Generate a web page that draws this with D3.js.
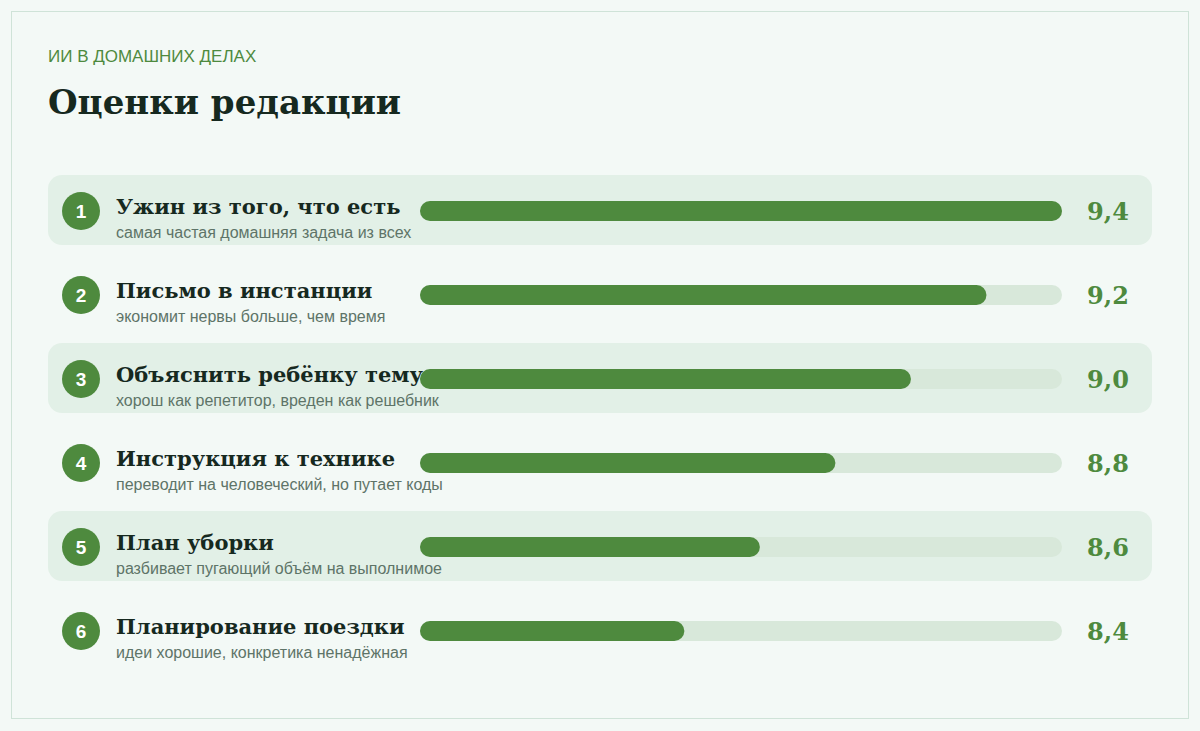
<!DOCTYPE html>
<html><head><meta charset="utf-8">
<script src="https://cdn.jsdelivr.net/npm/d3@7"></script>
<style>body{margin:0;background:#fff}</style>
</head><body><svg id="c" width="1200" height="731"></svg>
<script>
const titles = ['Ужин из того, что есть', 'Письмо в инстанции', 'Объяснить ребёнку тему', 'Инструкция к технике', 'План уборки', 'Планирование поездки'];
const notes = ['самая частая домашняя задача из всех', 'экономит нервы больше, чем время', 'хорош как репетитор, вреден как решебник', 'переводит на человеческий, но путает коды', 'разбивает пугающий объём на выполнимое', 'идеи хорошие, конкретика ненадёжная'];
const scores = [9.4, 9.2, 9.0, 8.8, 8.6, 8.4];

const GREEN = '#4e8a3e';
const SERIF = '"DejaVu Serif", Georgia, serif';
const SANS = '"Liberation Sans", Arial, sans-serif';

const svg = d3.select('#c');
svg.append('rect').attr('width', 1200).attr('height', 731).attr('fill', '#f3f9f6');
svg.append('rect').attr('x', 11.5).attr('y', 11.5).attr('width', 1177).attr('height', 707)
  .attr('fill', 'none').attr('stroke', '#cfe3d8');

svg.append('text').attr('x', 48).attr('y', 62).attr('fill', GREEN)
  .attr('font-family', SANS).attr('font-size', 17).text('ИИ В ДОМАШНИХ ДЕЛАХ');
svg.append('text').attr('x', 48).attr('y', 114).attr('fill', '#16291f')
  .attr('font-family', SERIF).attr('font-weight', 'bold').attr('font-size', 34).text('Оценки редакции');

const y = d3.scaleBand().domain(d3.range(scores.length)).range([168, 672]);
const x = d3.scaleLinear().domain([7.7, 9.4]).range([420, 1062]);

const row = svg.selectAll('.row').data(scores).join('g')
  .attr('class', 'row')
  .attr('transform', (d, i) => `translate(0,${y(i) + y.bandwidth() / 2})`);

row.filter((d, i) => i % 2 === 0).append('rect')
  .attr('x', 48).attr('y', -35).attr('width', 1104).attr('height', 70).attr('rx', 14)
  .attr('fill', '#e2f0e7');

row.append('circle').attr('cx', 81).attr('cy', 1).attr('r', 19).attr('fill', GREEN);
row.append('text').attr('x', 81).attr('y', 8).attr('text-anchor', 'middle')
  .attr('fill', '#fff').attr('font-family', SANS).attr('font-weight', 'bold').attr('font-size', 19)
  .text((d, i) => i + 1);

row.append('text').attr('x', 116).attr('y', 4).attr('fill', '#16291f')
  .attr('font-family', SERIF).attr('font-weight', 'bold').attr('font-size', 21)
  .text((d, i) => titles[i]);
row.append('text').attr('x', 116).attr('y', 28).attr('fill', '#5e7468')
  .attr('font-family', SANS).attr('font-size', 16)
  .text((d, i) => notes[i]);

row.append('rect').attr('x', x(7.7)).attr('y', -9).attr('height', 20).attr('rx', 10)
  .attr('width', x(9.4) - x(7.7)).attr('fill', '#d8e8da');
row.append('rect').attr('x', x(7.7)).attr('y', -9).attr('height', 20).attr('rx', 10)
  .attr('width', d => x(d) - x(7.7)).attr('fill', GREEN);

row.append('text').attr('x', 1108).attr('y', 10).attr('text-anchor', 'middle')
  .attr('fill', GREEN).attr('font-family', SERIF).attr('font-weight', 'bold').attr('font-size', 24)
  .text(d => d.toFixed(1).replace('.', ','));
</script></body></html>
